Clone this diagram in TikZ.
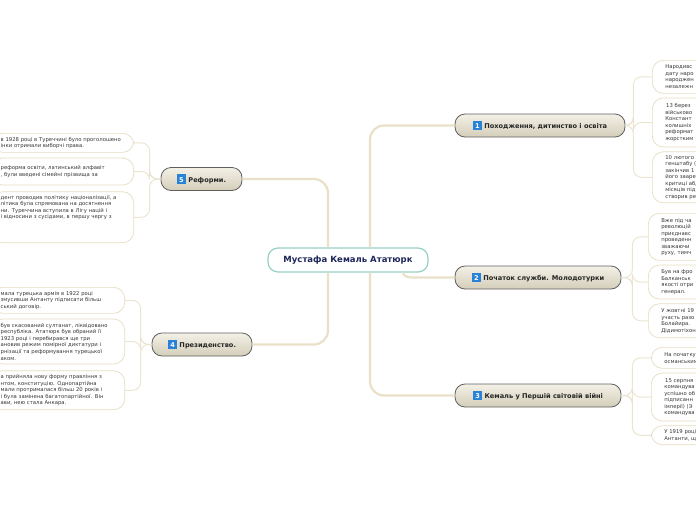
\documentclass[tikz,border=0pt]{standalone}
\usepackage{fontspec}
\setmainfont{DejaVu Sans}
\usepackage{xcolor}
\usepackage{tikz}
\usetikzlibrary{positioning}

\definecolor{linkline}{RGB}{234,224,200}
\definecolor{twigline}{RGB}{236,228,210}
\definecolor{leafline}{RGB}{230,220,194}
\definecolor{leaftext}{RGB}{55,55,55}
\definecolor{rootline}{RGB}{150,208,198}
\definecolor{roottext}{RGB}{30,40,90}
\definecolor{branchtop}{RGB}{243,240,230}
\definecolor{branchbot}{RGB}{212,206,186}
\definecolor{branchline}{RGB}{95,95,95}
\definecolor{badgeblue}{RGB}{40,130,215}

\newcommand{\numbadge}[1]{{\setlength{\fboxsep}{1.8pt}\colorbox{badgeblue}{\rule{0pt}{6.2pt}\makebox[5.6pt]{\textcolor{white}{#1}}}}}

\begin{document}
\begin{tikzpicture}[x=1pt, y=-1pt, node distance=4pt,
  root/.style={draw=rootline, line width=1.2pt, fill=white, rounded corners=10pt, minimum width=160pt, minimum height=24pt, font=\fontsize{8.5}{10}\selectfont\bfseries, text=roottext},
  branch/.style={draw=branchline, line width=0.8pt, top color=branchtop, bottom color=branchbot, rounded corners=10pt, minimum height=23pt, font=\fontsize{6.6}{8}\selectfont\bfseries, text=black!85},
  rleaf/.style={draw=leafline, line width=0.7pt, fill=white, rounded corners=11pt, font=\fontsize{5.3}{6.5}\selectfont, text=leaftext, align=left, text width=60pt, inner xsep=13pt, inner ysep=3pt, anchor=north west},
  lleaf/.style={draw=leafline, line width=0.7pt, fill=white, rounded corners=11pt, font=\fontsize{5.3}{6.6}\selectfont, text=leaftext, align=left, inner xsep=9pt, inner ysep=3pt, anchor=north east},
  link/.style={draw=linkline, line width=2.2pt, rounded corners=14pt},
  twig/.style={draw=twigline, line width=1pt, rounded corners=8pt}]

\useasboundingbox (0,0) rectangle (696,520);
\clip (0,0) rectangle (696,520);

\node[root] (mkat) at (348,260) {Мустафа Кемаль Ататюрк};

\node[branch, minimum width=170pt] (origin) at (540,125.5) {\numbadge{1} Походження, дитинство і освіта};
\node[branch, minimum width=166pt] (service) at (538,277.5) {\numbadge{2} Початок служби. Молодотурки};
\node[branch, minimum width=166pt] (war) at (538,395.5) {\numbadge{3} Кемаль у Першій світовій війні};
\node[branch, minimum width=100pt] (presid) at (202,344.5) {\numbadge{4} Президенство.};
\node[branch, minimum width=81pt] (reforms) at (201.5,179) {\numbadge{5} Реформи.};

% 1
\node[rleaf, minimum height=33pt] (birth) at (652,60) {Народивс\\дату наро\\народжен\\незалежн};
\node[rleaf, minimum height=49pt, below=of birth.south west, anchor=north west] (school) {\,13 берез\\військово\\Констант\\колишніх\\реформат\\жорстким};
\node[rleaf, minimum height=51pt, below=of school.south west, anchor=north west] (staff) {10 лютого\\генштабу (\\закінчив 1\\його заареш\\критиці абд\\місяців під\\створив ре};

% 2
\node[rleaf, minimum height=47pt] (revol) at (648,213) {Вже під ча\\революцій\\приєднавс\\проведенн\\зважаючи\\руху, тимч};
\node[rleaf, minimum height=34pt, below=of revol.south west, anchor=north west] (balkan) {Був на фро\\Балканськ\\якості отри\\генерал.};
\node[rleaf, minimum height=34pt, below=of balkan.south west, anchor=north west] (bolair) {У жовтні 19\\участь разо\\Болайира.\\Дідимотіхон};

% 3
\node[rleaf, minimum height=21pt] (start) at (651,347) {На початку П\\османськими};
\node[rleaf, minimum height=48pt, below=of start.south west, anchor=north west] (august) {\,15 серпня\\командува\\успішно об\\підписанн\\імперії) (Э\\командува};
\node[rleaf, minimum height=19pt, below=of august.south west, anchor=north west] (entente) {У 1919 році о\\Антанти, що};

% 5
\node[lleaf, text width=124pt, minimum height=19pt] (vote) at (134,133) {в 1928 році в Туреччині було проголошено\\інки отримали виборчі права.};
\node[lleaf, text width=124pt, minimum height=27pt, below=5pt of vote.south east, anchor=north east] (alphabet) {реформа освіти, латинський алфавіт\\, були введені сімейні прізвища за};
\node[lleaf, text width=124pt, minimum height=51pt, below=6pt of alphabet.south east, anchor=north east] (policy) {дент проводив політику націоналізації, а\\літика була спрямована на досягнення\\ни. Туреччина вступила в Лігу націй і\\і відносини з сусідами, в першу чергу з\\[14pt]\mbox{}};

% 4
\node[lleaf, text width=115pt, minimum height=26pt] (army) at (125,287) {мала турецька армія в 1922 році\\змусивши Антанту підписати більш\\ський договір.};
\node[lleaf, text width=115pt, minimum height=45pt, below=5pt of army.south east, anchor=north east] (republic) {був скасований султанат, ліквідовано\\республіка. Ататюрк був обраний її\\1923 році і перебирався ще три\\ановив режим помірної диктатури і\\рнізації та реформування турецької\\аком.};
\node[lleaf, text width=115pt, minimum height=39pt, below=6pt of republic.south east, anchor=north east] (constit) {а прийняла нову форму правління з\\нтом, конституцію. Однопартійна\\мали протрималася більш 20 років і\\і була замінена багатопартійної. Він\\ави, нею стала Анкара.};

\draw[link] ([xshift=22pt]mkat.north) |- (origin.west);
\draw[link] ([xshift=55pt]mkat.south) .. controls +(0,-5pt) and +(-12pt,0) .. ([xshift=-30pt]service.west) -- (service.west);
\draw[link] ([xshift=22pt]mkat.south) |- (war.west);
\draw[link] ([xshift=-20pt]mkat.south) |- (presid.east);
\draw[link] ([xshift=-20pt]mkat.north) |- (reforms.east);

\foreach \leaf in {birth,school,staff}
  \draw[twig] (origin.east) -- ++(8,0) |- (\leaf.west);
\foreach \leaf in {revol,balkan,bolair}
  \draw[twig] (service.east) -- ++(11,0) |- (\leaf.west);
\foreach \leaf in {start,august,entente}
  \draw[twig] (war.east) -- ++(11,0) |- (\leaf.west);
\foreach \leaf in {vote,alphabet,policy}
  \draw[twig] (reforms.west) -- ++(-11,0) |- (\leaf.east);
\foreach \leaf in {army,republic,constit}
  \draw[twig] (presid.west) -- ++(-11,0) |- (\leaf.east);
\end{tikzpicture}
\end{document}
